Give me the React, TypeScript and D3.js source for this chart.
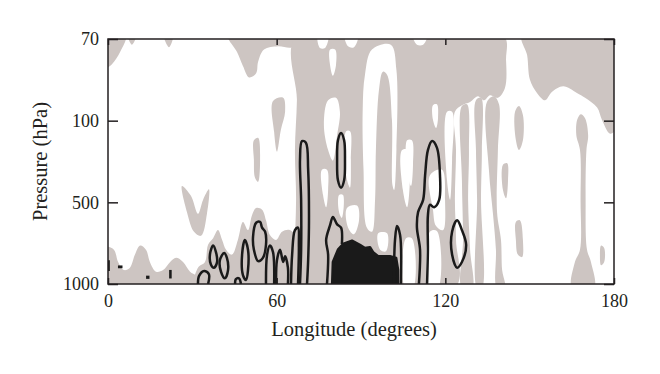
import React, { useEffect, useRef } from 'react';
import * as d3 from 'd3';

type Pt = [number, number];

// x: longitude (degrees), y: pressure level index (0 = 1000 hPa ... 3 = 70 hPa)
const lonTicks = [0, 60, 120, 180];
const pressureLevels = [0, 1, 2, 3];
const pressureLabels = ['1000', '500', '100', '70'];

// shaded (gray) areas
const grayAreas: Pt[][] = [
  [[0, 3.05], [6.4, 3.05], [4.3, 2.84], [1.4, 2.69], [-0.5, 2.65]],
  [[7.1, 3.05], [10, 3.05], [8.5, 2.93]],
  [[19.9, 3.05], [23.1, 3.05], [21.7, 2.9]],
  [[42.7, 3.05], [67.2, 3.05], [65.5, 2.9], [60.5, 2.91], [55.5, 2.87], [53.4, 2.72], [52.7, 2.58], [50.2, 2.53], [48, 2.67], [45.9, 2.84]],
  [[58.7, 2.24], [62.3, 2.28], [63, 2.11], [61.5, 1.89], [60.1, 1.62], [59.1, 1.86]],
  [[26.3, 1.2], [29.5, 1.08], [32, 0.86], [33.8, 1.03], [35.9, 1.16], [35.2, 0.86], [33.1, 0.59], [30.6, 0.64], [28.1, 0.88]],
  [[51.9, 1.76], [53.4, 1.79], [54.1, 1.52], [53.4, 1.25], [52.3, 1.3], [51.9, 1.52]],
  [[-0.5, 0.45], [2.1, 0.42], [3.6, 0.27], [5.7, 0.17], [7.8, 0.2], [9.6, 0.36], [11.4, 0.47], [13.5, 0.42], [14.9, 0.27], [17.1, 0.15], [19.6, 0.17], [22.1, 0.27], [24.2, 0.32], [26.7, 0.27], [29.2, 0.15], [31.3, 0.1], [32.7, -0.05], [-0.5, -0.05]],
  [[31, -0.05], [32, 0.2], [34.5, 0.27], [35.6, 0.48], [37.4, 0.56], [39.1, 0.66], [40.6, 0.54], [42, 0.42], [44.1, 0.36], [46.2, 0.54], [48, 0.76], [49.8, 0.66], [51.2, 0.84], [52.7, 0.93], [54.8, 0.91], [56.2, 0.78], [57.6, 0.6], [59.8, 0.54], [61.9, 0.64], [64.7, 0.66], [67.2, 0.54], [67.2, -0.05]],
  [[67.2, 3.05], [140.5, 3.05], [141.6, 2.74], [141.2, 2.4], [138.7, 2.28], [135.9, 2.31], [133.8, 2.25], [131.6, 2.3], [128.8, 2.23], [125.9, 2.19], [123.4, 2.11], [123.8, 1.64], [123.4, 1.03], [123.8, 0.54], [123.4, -0.05], [64.7, -0.05], [66.2, 0.42], [66.9, 1.03], [66.5, 1.64], [67.2, 2.25]],
  [[125.9, 2.18], [127.7, 2.2], [128.4, 1.64], [128.1, 1.03], [128.8, 0.42], [129.5, -0.05], [125.9, -0.05], [126.3, 0.54], [125.9, 1.27]],
  [[130.9, 2.25], [132.7, 2.28], [133, 1.64], [132.7, 1.03], [133, -0.05], [131.3, -0.05], [131.3, 1.03], [130.9, 1.64]],
  [[134.8, 2.23], [137.3, 2.3], [139.1, 2.2], [138.7, 1.64], [138.4, 0.88], [139.8, 0.54], [140.2, 0.17], [141.2, -0.05], [138.4, -0.05], [138, 0.42], [137, 0.84], [135.5, 1.4]],
  [[144.8, 2.11], [146.2, 2.18], [147.6, 2.07], [147.6, 1.76], [146.2, 1.64], [145.1, 1.76]],
  [[140.5, 1.46], [142, 1.48], [142.3, 1.27], [141.6, 1.05], [140.5, 1.15]],
  [[145.1, 0.76], [146.5, 0.78], [147.6, 0.54], [147.3, 0.33], [145.8, 0.36], [145.1, 0.54]],
  [[147.3, 3.05], [180.5, 3.05], [180.5, 1.89], [178.6, 1.84], [175.7, 2.01], [174, 2.16], [169.7, 2.28], [166.8, 2.34], [161.9, 2.42], [157.9, 2.35], [155.5, 2.25], [152.6, 2.34], [150.1, 2.5], [149.1, 2.8]],
  [[168.2, 2.08], [169.7, 2.03], [170.8, 1.82], [170.2, 1.64], [169.9, 1.03], [170.4, 0.42], [171.8, 0.27], [172.9, -0.05], [165.1, -0.05], [166.1, 0.27], [167.9, 0.42], [168.1, 1.03], [167.9, 1.64], [166.6, 1.82], [166.9, 2.01]],
  [[175.4, 0.47], [176.5, 0.44], [176.5, 0.27], [175.4, 0.23], [175, 0.36]],
];

// unshaded gaps inside the shaded band
const whiteGaps: Pt[][] = [
  [[74.7, 3.05], [78.3, 3.05], [77.2, 2.89], [75.4, 2.89]],
  [[84.3, 3.05], [88.9, 3.05], [87.5, 2.9], [85.4, 2.91]],
  [[79, 2.87], [80.8, 2.87], [81.1, 2.68], [80, 2.55], [79, 2.68]],
  [[78.3, 2.25], [81.1, 2.28], [82.5, 2.11], [81.5, 1.82], [80, 1.51], [78.3, 1.64], [76.8, 1.95]],
  [[93.9, 2.87], [100.6, 2.93], [102.6, 2.62], [102.6, 1.64], [101.8, 1.15], [101.2, 1.21], [101, 2.01], [99.3, 2.56], [97.8, 2.6], [96.4, 2.38], [95.3, 1.64], [95, 1.03], [93.9, 0.64], [92.1, 0.69], [90.9, 1.4], [90.6, 2.13], [91.4, 2.56]],
  [[84.7, 1.87], [86.1, 1.87], [86.4, 1.52], [86.1, 1.18], [84.7, 1.33]],
  [[82.2, 1.09], [83.6, 1.09], [83.2, 0.81], [82.2, 0.88]],
  [[115.6, 2.19], [117, 2.2], [117.4, 2.03], [116.7, 1.91], [115.6, 2.01]],
  [[106.4, 1.76], [108.1, 1.76], [108.5, 1.46], [107.8, 1.2], [106.7, 1.33]],
  [[108.5, 3.05], [113.5, 3.05], [112.1, 2.93], [109.9, 2.93]],
  [[76.1, 1.4], [77.9, 1.4], [78.3, 1.15], [77.6, 0.94], [76.5, 1.09]],
  [[85, 0.93], [88.6, 0.96], [89.3, 0.78], [87.5, 0.61], [85.4, 0.69]],
  [[104.6, 1.64], [107, 1.64], [107.4, 1.27], [106.4, 0.94], [104.9, 1.15]],
  [[114.5, 1.33], [118.8, 1.4], [119.9, 1.03], [119.2, 0.66], [116.7, 0.71], [115.6, 0.91]],
  [[96.1, 0.62], [99.3, 0.62], [98.9, 0.4], [96.8, 0.42]],
  [[106, 0.56], [108.1, 0.56], [108.5, -0.05], [105.7, -0.05]],
  [[114.5, 0.64], [117, 0.65], [117.4, -0.05], [114.5, -0.05]],
  [[120.6, 2.11], [122.4, 2.11], [122.4, 1.52], [121.7, 1.03], [120.6, 1.27]],
];

// strongest (filled black) core
const coreArea: Pt[] = [
  [79.7, -0.05], [80, 0.27], [81.8, 0.42], [83.6, 0.49], [86.8, 0.53], [89.6, 0.48], [91.4, 0.44],
  [93.2, 0.45], [94.3, 0.39], [96.1, 0.34], [100.3, 0.34], [102.5, 0.32], [103.2, 0.17], [103.2, -0.05],
];

// black contour lines: closed loops
const closedContours: Pt[][] = [
  [[37.4, 0.47], [38.4, 0.39], [38.8, 0.27], [37.7, 0.2], [36.6, 0.24], [36.3, 0.37]],
  [[41.3, 0.38], [42.3, 0.32], [42.7, 0.17], [41.6, 0.07], [40.2, 0.15], [39.8, 0.29]],
  [[48.7, 0.54], [49.8, 0.42], [49.8, 0.17], [49.1, 0.05], [48, 0.11], [47.7, 0.36]],
  [[52.7, 0.75], [54.1, 0.76], [54.8, 0.69], [55.9, 0.64], [56.2, 0.48], [55.1, 0.32], [53.4, 0.28], [51.9, 0.42], [51.6, 0.58]],
  [[82.9, 1.85], [84, 1.76], [84.3, 1.52], [84, 1.27], [82.9, 1.18], [81.8, 1.27], [81.5, 1.52], [81.8, 1.76]],
  [[124.2, 0.78], [125.9, 0.66], [127.4, 0.48], [125.9, 0.27], [124.2, 0.2], [122.4, 0.36], [122.4, 0.64]],
];

// black contour lines that run into the 1000 hPa edge
const openContours: Pt[][] = [
  [[32, 0], [32.4, 0.1], [34.2, 0.16], [35.9, 0.12], [35.6, 0]],
  [[45.2, 0], [45.5, 0.06], [46.6, 0.07], [47.3, 0]],
  [[56.2, 0], [56.6, 0.36], [57.6, 0.47], [58.7, 0.39], [59.1, 0]],
  [[59.8, 0], [60.1, 0.29], [61.2, 0.42], [62.3, 0.27], [63, 0.34], [64, 0.2], [64, 0]],
  [[68.3, 0], [68.7, 0.42], [68.7, 1.03], [68.3, 1.52], [69, 1.75], [70.4, 1.73], [71.2, 1.4], [71.5, 0.78], [71.2, 0.29], [70.8, 0]],
  [[65.1, 0], [65.5, 0.36], [66.5, 0.66], [67.6, 0.69], [67.9, 0.48], [67.6, 0]],
  [[77.9, 0], [78.3, 0.36], [77.6, 0.54], [79, 0.72], [80, 0.82], [81.5, 0.73], [82.9, 0.69], [83.2, 0.49]],
  [[101.7, 0], [102.1, 0.54], [102.8, 0.71], [103.9, 0.6], [104.2, 0]],
  [[110.6, 0], [111, 0.42], [109.9, 0.69], [110.3, 0.88], [112.1, 1.03], [112.8, 1.33], [113.8, 1.64], [115.3, 1.75], [117, 1.67], [118.1, 1.33], [117.8, 1.03], [116, 0.94], [114.5, 0.97], [113.8, 0.84], [113.8, 0.42], [113.5, 0]],
];

// tiny isolated contour specks
const specks: Pt[][] = [
  [[3.9, 0.215], [4.8, 0.215], [4.8, 0.205], [3.9, 0.205]],
  [[13.9, 0.09], [14.4, 0.09], [14.4, 0.075], [13.9, 0.075]],
  [[22.1, 0.16], [22.3, 0.16], [22.3, 0.08], [22.1, 0.08]],
  [[0, 0.28], [0.3, 0.28], [0.3, 0.17], [0, 0.17]],
];

const App = () => {
  const svgRef = useRef<SVGSVGElement>(null);

  useEffect(() => {
    const svg = d3.select(svgRef.current);
    svg.selectAll('*').remove();

    const left = 108, right = 614, top = 39, bottom = 284;
    const ink = '#231f20';
    const gray = '#cdc5c2';
    const font = '"Liberation Serif", "DejaVu Serif", serif';

    const x = d3.scaleLinear().domain([0, 180]).range([left, right]);
    const y = d3.scaleLinear().domain([0, 3]).range([bottom, top]);

    svg.append('defs').append('clipPath').attr('id', 'plot-clip')
      .append('rect').attr('x', left).attr('y', top).attr('width', right - left).attr('height', bottom - top);

    const plot = svg.append('g').attr('clip-path', 'url(#plot-clip)');

    const smooth = d3.line<Pt>().x(d => x(d[0])).y(d => y(d[1])).curve(d3.curveCatmullRomClosed.alpha(0.5));
    const smoothOpen = d3.line<Pt>().x(d => x(d[0])).y(d => y(d[1])).curve(d3.curveCatmullRom.alpha(0.5));
    const straight = d3.line<Pt>().x(d => x(d[0])).y(d => y(d[1])).curve(d3.curveLinearClosed);

    plot.selectAll('.gray').data(grayAreas).join('path')
      .attr('class', 'gray').attr('d', d => smooth(d)).attr('fill', gray);

    plot.selectAll('.gap').data(whiteGaps).join('path')
      .attr('class', 'gap').attr('d', d => smooth(d)).attr('fill', '#ffffff');

    plot.append('path').attr('d', straight(coreArea))
      .attr('fill', '#1a1a1a').attr('stroke', '#1a1a1a').attr('stroke-width', 2.5).attr('stroke-linejoin', 'round');

    plot.selectAll('.loop').data(closedContours).join('path')
      .attr('class', 'loop').attr('d', d => smooth(d))
      .attr('fill', 'none').attr('stroke', '#1a1a1a').attr('stroke-width', 2.5).attr('stroke-linejoin', 'round');

    plot.selectAll('.open').data(openContours).join('path')
      .attr('class', 'open').attr('d', d => smoothOpen(d))
      .attr('fill', 'none').attr('stroke', '#1a1a1a').attr('stroke-width', 2.5).attr('stroke-linejoin', 'round');

    plot.selectAll('.speck').data(specks).join('path')
      .attr('class', 'speck').attr('d', d => straight(d))
      .attr('fill', '#1a1a1a').attr('stroke', '#1a1a1a').attr('stroke-width', 2);

    // frame
    svg.append('rect')
      .attr('x', left).attr('y', top).attr('width', right - left).attr('height', bottom - top)
      .attr('fill', 'none').attr('stroke', ink).attr('stroke-width', 1.5);

    const styleAxis = (g: d3.Selection<SVGGElement, unknown, null, undefined>) => {
      g.select('.domain').remove();
      g.selectAll('line').attr('stroke', ink).attr('stroke-width', 1.5);
      g.selectAll('text').attr('fill', ink).attr('font-size', 18).attr('font-family', font);
    };

    svg.append('g').attr('transform', `translate(0,${bottom})`)
      .call(d3.axisBottom(x).tickValues(lonTicks).tickSizeInner(-6).tickSizeOuter(0).tickPadding(10))
      .call(styleAxis);

    svg.append('g').attr('transform', `translate(0,${top})`)
      .call(d3.axisTop(x).tickValues(lonTicks).tickSizeInner(-6).tickSizeOuter(0).tickFormat(() => ''))
      .call(styleAxis);

    svg.append('g').attr('transform', `translate(${left},0)`)
      .call(d3.axisLeft(y).tickValues(pressureLevels).tickFormat((d, i) => pressureLabels[i])
        .tickSizeInner(-10).tickSizeOuter(0).tickPadding(9))
      .call(styleAxis);

    svg.append('g').attr('transform', `translate(${right},0)`)
      .call(d3.axisRight(y).tickValues(pressureLevels).tickSizeInner(-10).tickSizeOuter(0).tickFormat(() => ''))
      .call(styleAxis);

    svg.append('text')
      .attr('x', 354).attr('y', 336)
      .attr('text-anchor', 'middle')
      .attr('font-family', font).attr('font-size', 20.5).attr('fill', ink)
      .text('Longitude (degrees)');

    svg.append('text')
      .attr('transform', `translate(47,${(top + bottom) / 2}) rotate(-90)`)
      .attr('text-anchor', 'middle')
      .attr('font-family', font).attr('font-size', 20.5).attr('fill', ink)
      .text('Pressure (hPa)');
  }, []);

  return (
    <div style={{ position: 'absolute', left: 0, top: 0 }}>
      <svg ref={svgRef} width={660} height={374} />
    </div>
  );
};

export default App;
